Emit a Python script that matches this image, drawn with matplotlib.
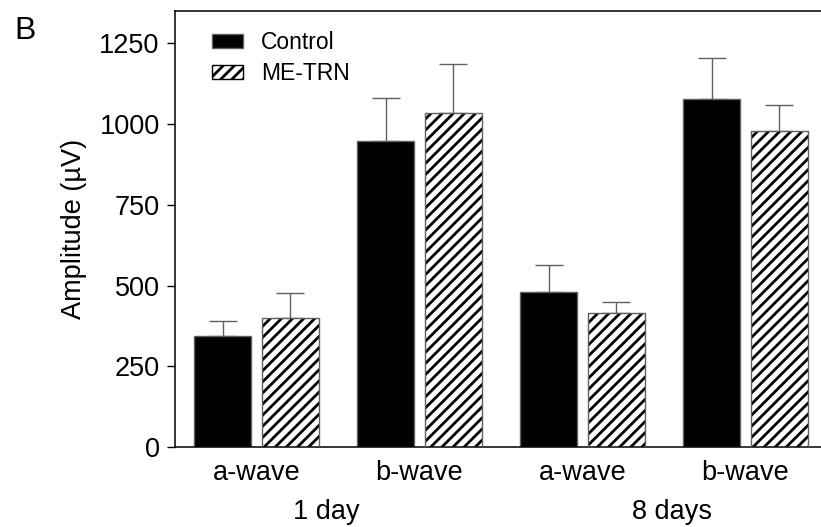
import numpy as np
from matplotlib import pyplot as plt
from matplotlib.patches import Patch
from matplotlib import transforms

plt.rcParams['font.family'] = ['Liberation Sans', 'DejaVu Sans']
plt.rcParams['hatch.linewidth'] = 2.0

# values (uV)
waves = ['a-wave', 'b-wave', 'a-wave', 'b-wave']
days = ['1 day', '8 days']
control = [344, 949, 481, 1076]
control_err = [45, 131, 84, 127]
metrn = [398, 1035, 415, 978]
metrn_err = [78, 150, 34, 81]

fig = plt.figure(figsize=(8.21, 5.27), dpi=100)
ax = fig.add_axes([175/821, 80/527, 652/821, 436/527])

x = np.arange(len(waves))
off = 0.208
w = 0.35
grey = '#606060'

ax.bar(x - off, control, w, color='black', edgecolor=grey, linewidth=1, zorder=2)
ax.bar(x + off, metrn, w, color='white', edgecolor='black', hatch='///', linewidth=0, zorder=2)
ax.bar(x + off, metrn, w, fill=False, edgecolor=grey, linewidth=1, zorder=3)

ax.errorbar(x - off, control, yerr=[np.zeros(4), control_err], fmt='none',
            ecolor=grey, elinewidth=1, capsize=10, capthick=1, zorder=1)
ax.errorbar(x + off, metrn, yerr=[np.zeros(4), metrn_err], fmt='none',
            ecolor=grey, elinewidth=1, capsize=10, capthick=1, zorder=1)

ax.set_xlim(-0.5, 3.5)
ax.set_ylim(0, 1350)
ax.set_yticks([0, 250, 500, 750, 1000, 1250])
ax.set_xticks(x)
ax.set_xticklabels(waves)
ax.tick_params(axis='x', length=0, pad=9, labelsize=19.5)
ax.tick_params(axis='y', length=6, width=1, pad=5, labelsize=19.5)
for s in ['left', 'bottom', 'top']:
    ax.spines[s].set_linewidth(1.1)
ax.spines['right'].set_visible(False)

ax.set_ylabel('Amplitude (µV)', fontsize=19.5)
ax.yaxis.set_label_coords(-0.135, 0.5)

trans = transforms.blended_transform_factory(ax.transData, ax.transAxes)
day_x = [0.43, 2.55]
for dx, lab in zip(day_x, days):
    ax.text(dx, -0.12, lab, transform=trans, ha='center', va='top', fontsize=19.5)

handles = [Patch(facecolor='black', edgecolor=grey, linewidth=1),
           Patch(facecolor='white', edgecolor='black', hatch='///', linewidth=1)]
ax.legend(handles, ['Control', 'ME-TRN'], loc='upper left',
          bbox_to_anchor=(0.032, 0.99), frameon=False, fontsize=16.5,
          handlelength=1.35, handleheight=0.55, handletextpad=0.8,
          labelspacing=0.35, borderpad=0.2)

fig.text(14/821, 1 - 31/527, 'B', fontsize=23, va='center', ha='left')

fig.savefig('out.png', dpi=100)
